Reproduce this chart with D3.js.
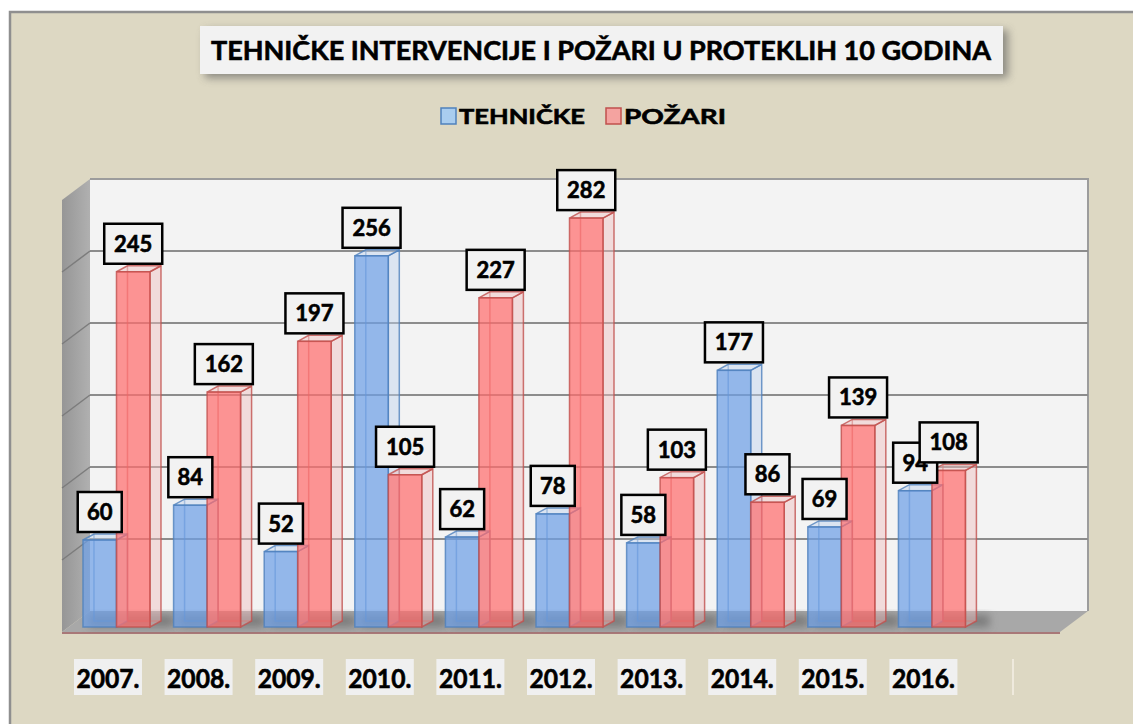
<!DOCTYPE html>
<html>
<head>
<meta charset="utf-8">
<script src="https://cdn.jsdelivr.net/npm/d3@7"></script>
<style>
  body { margin: 0; background: #ffffff; }
  svg { display: block; }
  text { font-family: Lato, "Open Sans", sans-serif; font-weight: bold; stroke: #000; stroke-width: 0.6px; }
</style>
</head>
<body>
<svg id="canvas" width="1133" height="724"></svg>
<script>
(function () {

    // Data.
    const years = ["2007.", "2008.", "2009.", "2010.", "2011.", "2012.", "2013.", "2014.", "2015.", "2016."];
    const series = ["TEHNIČKE", "POŽARI"];
    const tehnicke = [60, 84, 52, 256, 62, 78, 58, 177, 69, 94];
    const pozari = [245, 162, 197, 105, 227, 282, 103, 86, 139, 108];
    const gridValues = [0, 50, 100, 150, 200, 250, 300];
    const title = "TEHNIČKE INTERVENCIJE I POŽARI U PROTEKLIH 10 GODINA";

    // Layout of the fake 3D box.
    const wall = { left: 90, right: 1088, top: 179, bottom: 611 };
    const floorDx = 28, floorDy = 21;
    const barBase = 627;
    const depthX = 11, depthY = -6;

    const colors = {
        "TEHNIČKE": { front: "rgba(110,160,230,0.72)", side: "rgba(190,210,240,0.45)", stroke: "#4f81bd", legend: "#a9cdef" },
        "POŽARI": { front: "rgba(255,110,110,0.72)", side: "rgba(240,190,190,0.45)", stroke: "#c0504d", legend: "#f4a3a0" }
    };

    let svg = d3.select("#canvas");

    // Scales.
    let x = d3.scaleBand().domain(years).range([71.2, 977.2]).paddingInner(0.2605).paddingOuter(0.13);
    let xs = d3.scaleBand().domain(series).range([0, x.bandwidth()]);
    let yFront = d3.scaleLinear().domain([0, 300]).range([barBase, barBase - 300 * 1.45]);
    let yWall = d3.scaleLinear().domain([0, 300]).range([wall.bottom, wall.top]);

    let defs = svg.append("defs");
    defs.append("filter").attr("id", "blur").attr("x", "-50%").attr("y", "-50%").attr("width", "200%").attr("height", "200%")
        .append("feGaussianBlur").attr("stdDeviation", 4);
    let lw = defs.append("linearGradient").attr("id", "leftwall").attr("x1", 0).attr("x2", 1);
    lw.append("stop").attr("offset", 0).attr("stop-color", "#969696");
    lw.append("stop").attr("offset", 1).attr("stop-color", "#b0b0b0");

    // Outer background with frame.
    svg.append("rect").attr("x", 10).attr("y", 12).attr("width", 1140).attr("height", 730)
        .attr("fill", "#ddd8c3").attr("stroke", "#8f8f8f").attr("stroke-width", 2.5);

    // Title box.
    svg.append("rect").attr("x", 205).attr("y", 30).attr("width", 803).attr("height", 48)
        .attr("fill", "#555").attr("opacity", 0.6).attr("filter", "url(#blur)");
    svg.append("rect").attr("x", 200).attr("y", 26).attr("width", 803).attr("height", 48)
        .attr("fill", "#f2f2f2");
    svg.append("text").attr("x", 601).attr("y", 60).attr("text-anchor", "middle")
        .attr("font-size", 27).attr("textLength", 780).attr("lengthAdjust", "spacingAndGlyphs")
        .attr("fill", "#000").text(title);

    // Legend.
    let legendPos = [{ box: 441, text: 459, len: 126 }, { box: 606, text: 624, len: 102 }];
    series.forEach(function (s, i) {
        svg.append("rect").attr("x", legendPos[i].box).attr("y", 108).attr("width", 15).attr("height", 16)
            .attr("fill", colors[s].legend).attr("stroke", colors[s].stroke).attr("stroke-width", 1.5);
        svg.append("text").attr("x", legendPos[i].text).attr("y", 124).attr("font-size", 21)
            .attr("textLength", legendPos[i].len).attr("lengthAdjust", "spacingAndGlyphs").text(s);
    });

    // Back wall.
    svg.append("rect").attr("x", wall.left).attr("y", wall.top)
        .attr("width", wall.right - wall.left).attr("height", wall.bottom - wall.top)
        .attr("fill", "#f3f3f3");
    svg.append("path")
        .attr("d", `M${wall.left},${wall.top}H${wall.right}V${wall.bottom}`)
        .attr("fill", "none").attr("stroke", "#9c9c9c").attr("stroke-width", 2);

    // Left side wall.
    svg.append("path")
        .attr("d", `M${wall.left - floorDx},${wall.top + floorDy}L${wall.left},${wall.top}L${wall.left},${wall.bottom}L${wall.left - floorDx},${wall.bottom + floorDy}Z`)
        .attr("fill", "url(#leftwall)");

    // Gridlines on back wall and side wall.
    gridValues.slice(1, -1).forEach(function (v) {
        let gy = yWall(v);
        svg.append("line").attr("x1", wall.left).attr("x2", wall.right).attr("y1", gy).attr("y2", gy)
            .attr("stroke", "#8c8c8c").attr("stroke-width", 2);
        svg.append("line").attr("x1", wall.left - floorDx).attr("x2", wall.left).attr("y1", gy + floorDy).attr("y2", gy)
            .attr("stroke", "#7c7c7c").attr("stroke-width", 1.5);
    });

    // Floor.
    svg.append("path")
        .attr("d", `M${wall.left - floorDx},${wall.bottom + floorDy}L${wall.right - floorDx},${wall.bottom + floorDy}L${wall.right},${wall.bottom}L${wall.left},${wall.bottom}Z`)
        .attr("fill", "#a8a8a8");
    svg.append("line").attr("x1", wall.left - floorDx).attr("x2", wall.right - floorDx)
        .attr("y1", wall.bottom + floorDy + 1).attr("y2", wall.bottom + floorDy + 1)
        .attr("stroke", "#a87878").attr("stroke-width", 2);

    // Shadows of the bars on the floor.
    years.forEach(function (yr) {
        svg.append("rect").attr("x", x(yr) + 6).attr("y", barBase - 12)
            .attr("width", x.bandwidth() + 18).attr("height", 12)
            .attr("fill", "#555").attr("opacity", 0.55).attr("filter", "url(#blur)");
    });

    // Bars.
    let values = { "TEHNIČKE": tehnicke, "POŽARI": pozari };
    let barGroup = svg.append("g");
    years.forEach(function (yr, i) {
        series.forEach(function (s) {
            let v = values[s][i];
            let x0 = x(yr) + xs(s), x1 = x0 + xs.bandwidth();
            let yt = yFront(v), yb = barBase;
            let c = colors[s];
            let g = barGroup.append("g");
            // Back and hidden edges.
            g.append("path")
                .attr("d", `M${x0 + depthX},${yt + depthY}V${yb + depthY}H${x1 + depthX}`)
                .attr("fill", "none").attr("stroke", c.stroke).attr("stroke-opacity", 0.6).attr("stroke-width", 1.5);
            // Right side.
            g.append("path")
                .attr("d", `M${x1},${yt}L${x1 + depthX},${yt + depthY}L${x1 + depthX},${yb + depthY}L${x1},${yb}Z`)
                .attr("fill", c.side).attr("stroke", c.stroke).attr("stroke-opacity", 0.8).attr("stroke-width", 1.5);
            // Top.
            g.append("path")
                .attr("d", `M${x0},${yt}L${x0 + depthX},${yt + depthY}L${x1 + depthX},${yt + depthY}L${x1},${yt}Z`)
                .attr("fill", c.side).attr("stroke", c.stroke).attr("stroke-opacity", 0.8).attr("stroke-width", 1.5);
            // Front.
            g.append("rect").attr("x", x0).attr("y", yt).attr("width", x1 - x0).attr("height", yb - yt)
                .attr("fill", c.front).attr("stroke", c.stroke).attr("stroke-opacity", 0.8).attr("stroke-width", 1.5);
        });
    });

    // Value labels.
    years.forEach(function (yr, i) {
        series.forEach(function (s) {
            let v = values[s][i];
            let cx = x(yr) + xs(s) + xs.bandwidth() / 2;
            let yt = yFront(v);
            let w = String(v).length > 2 ? 58 : 44;
            svg.append("rect").attr("x", cx - w / 2).attr("y", yt - 48).attr("width", w).attr("height", 40)
                .attr("fill", "#f2f2f2").attr("stroke", "#000").attr("stroke-width", 2.5);
            svg.append("text").attr("x", cx).attr("y", yt - 20).attr("text-anchor", "middle")
                .attr("font-size", 22).attr("fill", "#000").text(v);
        });
    });

    // Year labels.
    years.forEach(function (yr) {
        let cx = x(yr) + x.bandwidth() / 2 - 8.5;
        svg.append("rect").attr("x", cx - 34).attr("y", 659).attr("width", 68).attr("height", 36)
            .attr("fill", "#f0f0f0");
        svg.append("text").attr("x", cx).attr("y", 688).attr("text-anchor", "middle")
            .attr("font-size", 26).attr("textLength", 63).attr("lengthAdjust", "spacingAndGlyphs")
            .attr("fill", "#000").text(yr);
    });

    // Small stray separator seen at the end of the category row.
    svg.append("line").attr("x1", 1013).attr("x2", 1013).attr("y1", 659).attr("y2", 695)
        .style("stroke", "#f4f1e6").attr("stroke-width", 1.5);

})();
</script>
</body>
</html>
